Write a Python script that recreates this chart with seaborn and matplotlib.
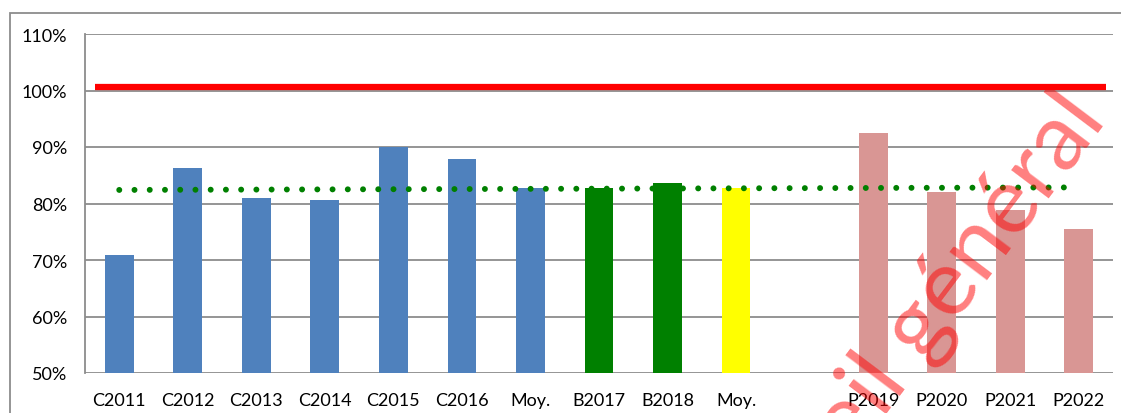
import matplotlib
matplotlib.use("Agg")
import matplotlib.pyplot as plt
import seaborn as sns
import pandas as pd
import numpy as np
from matplotlib.patches import Rectangle

# ---- data ----
labels = ["C2011", "C2012", "C2013", "C2014", "C2015", "C2016", "Moy.",
          "B2017", "B2018", "Moy.", "", "P2019", "P2020", "P2021", "P2022"]
values = [70.8, 86.2, 80.9, 80.6, 90.0, 87.9, 82.7,
          82.7, 83.6, 82.7, np.nan, 92.5, 82.0, 78.8, 75.5]
groups = ["C", "C", "C", "C", "C", "C", "C",
          "B", "B", "M", "gap", "P", "P", "P", "P"]
target_value = 100.6          # red reference line
trend_values = [82.4, 82.85]  # green dotted line (start, end)
yticks = [50, 60, 70, 80, 90, 100, 110]
ytick_labels = ["50%", "60%", "70%", "80%", "90%", "100%", "110%"]
watermark = "eil général"

group_colors = {"C": "#4F81BD", "B": "#008000", "M": "#FFFF00",
                "P": "#D99694", "gap": "#FFFFFF"}

keys = [f"{i}_{l}" for i, l in enumerate(labels)]
df = pd.DataFrame({"key": keys, "value": values, "group": groups})
palette = {k: group_colors[g] for k, g in zip(keys, groups)}

sns.set_theme(style="white")
plt.rcParams["font.family"] = ["Lato", "DejaVu Sans"]

fig = plt.figure(figsize=(11.21, 4.14), dpi=100)
ax = fig.add_axes([85/1121, 1-374/414, (1113-85)/1121, (374-35)/414])

sns.barplot(data=df, x="key", y="value", hue="key", order=keys,
            palette=palette, legend=False, width=0.42, ax=ax,
            saturation=1, zorder=3, linewidth=0)

ax.set_ylim(50, 110)
ax.set_xlim(-0.5, len(labels) - 0.5)
ax.set_yticks(yticks)
ax.set_yticklabels(ytick_labels)
ax.set_xticks(range(len(labels)))
ax.set_xticklabels(labels)
ax.set_xlabel("")
ax.set_ylabel("")

ax.yaxis.grid(True, color="#8C8C8C", linewidth=1.3, zorder=0)
ax.set_axisbelow(True)
for s in ["top", "right", "bottom"]:
    ax.spines[s].set_visible(False)
ax.spines["left"].set_color("#8C8C8C")
ax.spines["left"].set_linewidth(1.3)
ax.tick_params(axis="both", length=0, labelsize=13, colors="black")
ax.tick_params(axis="y", pad=13)
ax.tick_params(axis="x", pad=14)

# red reference line
ax.hlines(target_value, -0.35, 14.4, color="#FF0000", linewidth=4.5, zorder=4)

# green dotted line
ax.plot([0, len(labels) - 1], trend_values, color="#008000", linewidth=4.3,
        linestyle=(0, (0.001, 2.55)), dash_capstyle="round", zorder=4)

# outer frame
fig.patches.append(Rectangle((10/1121, -0.2), 1.2, 1.2 - 14/414,
                             transform=fig.transFigure, fill=False,
                             edgecolor="#8C8C8C", linewidth=1.3, zorder=0))

# watermark
fig.text(1108/1121, 1-120/414, watermark, color="red", alpha=0.5,
         fontsize=68, fontweight="normal", rotation=53, rotation_mode="anchor",
         ha="right", va="baseline", zorder=10,
         family=["Lato", "DejaVu Sans"])

fig.savefig("out.png", dpi=100)
